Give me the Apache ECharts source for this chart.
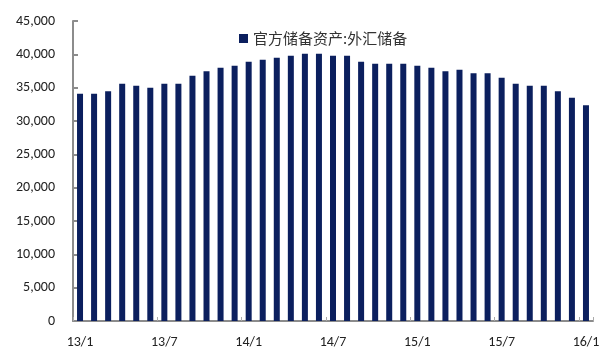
<!DOCTYPE html>
<html>
<head>
<meta charset="utf-8">
<script src="https://cdn.jsdelivr.net/npm/echarts@6/dist/echarts.min.js"></script>
<style>
  html, body { margin: 0; padding: 0; background: #fff; }
  #chart { width: 603px; height: 352px; }
</style>
</head>
<body>
<div id="chart"></div>
<script>
// 月份 13/1 - 16/1
var months = [];
for (var y = 13; y <= 16; y++) {
  for (var m = 1; m <= 12; m++) {
    if (y === 16 && m > 1) break;
    months.push(y + '/' + m);
  }
}
var seriesName = '官方储备资产:外汇储备';
var reserves = [
  34100, 34100, 34450, 35600, 35300, 35000, 35600, 35600, 36800, 37450, 38000, 38300,
  38900, 39200, 39500, 39800, 40100, 40100, 39800, 39800, 38900, 38600, 38600, 38600,
  38300, 38000, 37450, 37700, 37150, 37150, 36500, 35600, 35300, 35300, 34450, 33500,
  32350
];
var yMax = 45000;
var yStep = 5000;

var chart = echarts.init(document.getElementById('chart'));
chart.setOption({
  animation: false,
  grid: { left: 73, right: 10, top: 21, bottom: 31 },
  legend: {
    data: [{ name: seriesName, icon: 'rect' }],
    top: 26,
    left: 234,
    itemWidth: 9,
    itemHeight: 9,
    itemGap: 4,
    textStyle: { fontFamily: 'Noto Sans CJK SC', fontSize: 15, color: '#333' }
  },
  xAxis: {
    type: 'category',
    data: months,
    axisLine: { lineStyle: { color: '#8c8c8c', width: 2 } },
    axisTick: {
      show: true,
      inside: true,
      length: 4,
      interval: 5,
      alignWithLabel: false,
      lineStyle: { color: '#aaa' }
    },
    axisLabel: {
      interval: 5,
      color: '#222',
      fontFamily: 'Calibri, Carlito, "Liberation Sans", sans-serif',
      fontSize: 14,
      margin: 14
    }
  },
  yAxis: {
    type: 'value',
    min: 0,
    max: yMax,
    interval: yStep,
    axisLine: { show: true, lineStyle: { color: '#8c8c8c', width: 2 } },
    axisTick: { show: true, inside: true, length: 5, lineStyle: { color: '#8c8c8c', width: 2 } },
    splitLine: { show: false },
    axisLabel: {
      color: '#222',
      fontFamily: 'Calibri, Carlito, "Liberation Sans", sans-serif',
      fontSize: 14,
      margin: 18,
      formatter: function (v) { return v.toLocaleString('en-US'); }
    }
  },
  series: [{
    name: seriesName,
    type: 'bar',
    data: reserves,
    barWidth: 6,
    itemStyle: { color: '#0b1f5e' }
  }]
});
</script>
</body>
</html>
